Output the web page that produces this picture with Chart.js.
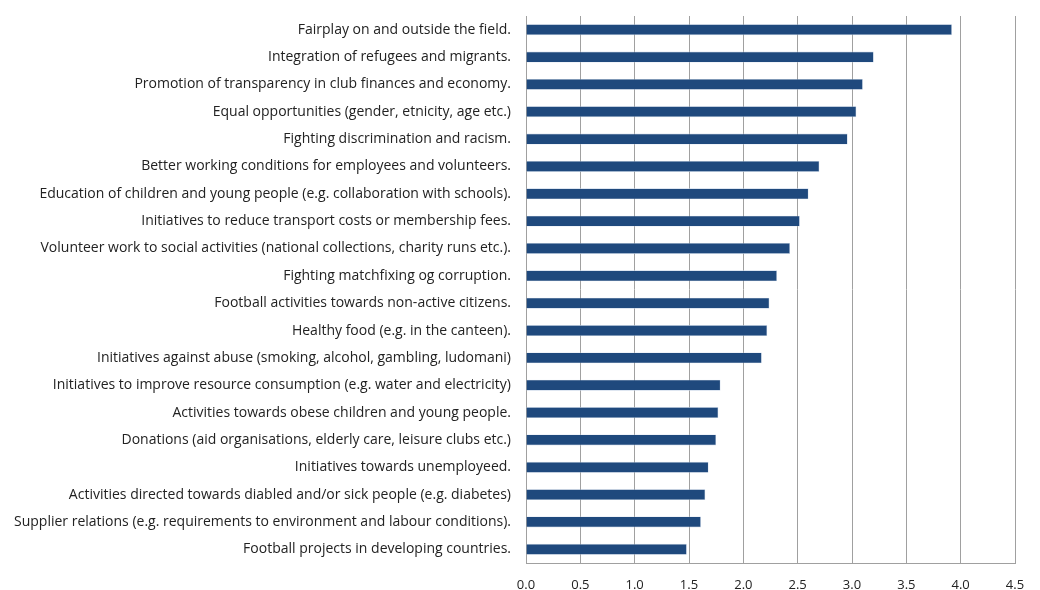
<!DOCTYPE html>
<html>
<head>
<meta charset="utf-8">
<script src="https://cdn.jsdelivr.net/npm/chart.js@4.4.1/dist/chart.umd.min.js"></script>
<style>
    html, body { margin: 0; padding: 0; background: #ffffff; }
    #wrap { width: 1040px; height: 590px; position: relative; }
</style>
</head>
<body>
<div id="wrap"><canvas id="chart"></canvas></div>
<script>
// Average rating per CSR initiative
const initiatives = [
    'Fairplay on and outside the field.',
    'Integration of refugees and migrants.',
    'Promotion of transparency in club finances and economy.',
    'Equal opportunities (gender, etnicity, age etc.)',
    'Fighting discrimination and racism.',
    'Better working conditions for employees and volunteers.',
    'Education of children and young people (e.g. collaboration with schools).',
    'Initiatives to reduce transport costs or membership fees.',
    'Volunteer work to social activities (national collections, charity runs etc.).',
    'Fighting matchfixing og corruption.',
    'Football activities towards non-active citizens.',
    'Healthy food (e.g. in the canteen).',
    'Initiatives against abuse (smoking, alcohol, gambling, ludomani)',
    'Initiatives to improve resource consumption (e.g. water and electricity)',
    'Activities towards obese children and young people.',
    'Donations (aid organisations, elderly care, leisure clubs etc.)',
    'Initiatives towards unemployeed.',
    'Activities directed towards diabled and/or sick people (e.g. diabetes)',
    'Supplier relations (e.g. requirements to environment and labour conditions).',
    'Football projects in developing countries.'
];

const ratings = [
    3.92, 3.20, 3.10, 3.04, 2.96, 2.70, 2.60, 2.52, 2.43, 2.31,
    2.24, 2.22, 2.17, 1.79, 1.77, 1.75, 1.68, 1.65, 1.61, 1.48
];

const axisMin = 0;
const axisMax = 4.5;
const axisStep = 0.5;

const labelFont = { family: 'Open Sans', size: 14 };

const ctx = document.getElementById('chart');

new Chart(ctx, {
    type: 'bar',
    data: {
        labels: initiatives,
        datasets: [{
            data: ratings,
            backgroundColor: '#1f497d',
            borderColor: '#c5d3e6',
            borderWidth: 0.6,
            barPercentage: 0.4,
            categoryPercentage: 1.0
        }]
    },
    options: {
        indexAxis: 'y',
        responsive: true,
        maintainAspectRatio: false,
        animation: false,
        layout: {
            padding: { top: 16, right: 25, bottom: 0, left: 0 }
        },
        plugins: {
            legend: { display: false },
            tooltip: { enabled: false }
        },
        scales: {
            x: {
                min: axisMin,
                max: axisMax,
                ticks: {
                    stepSize: axisStep,
                    padding: 14,
                    color: '#222222',
                    font: { family: 'Open Sans', size: 13 },
                    callback: function(value) {
                        return Number(value).toFixed(1);
                    }
                },
                grid: {
                    color: '#a0a0a0',
                    lineWidth: 1,
                    drawTicks: false
                },
                border: {
                    color: '#a0a0a0',
                    width: 1
                },
                afterFit: function(scale) {
                    scale.height = 27;
                }
            },
            y: {
                ticks: {
                    padding: 15,
                    color: '#222222',
                    autoSkip: false,
                    font: labelFont
                },
                grid: {
                    display: false,
                    drawTicks: false
                },
                border: {
                    color: '#a0a0a0',
                    width: 1
                },
                afterFit: function(scale) {
                    // keep the plot top fixed by the layout padding only
                    scale.width = 526;
                    scale.paddingTop = 0;
                    scale.paddingBottom = 0;
                }
            }
        }
    }
});
</script>
</body>
</html>
